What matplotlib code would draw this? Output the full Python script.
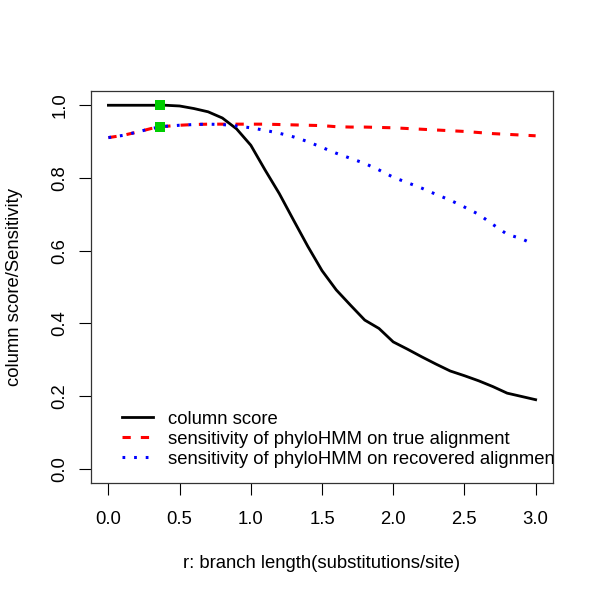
import numpy as np
import matplotlib
matplotlib.use("Agg")
import matplotlib.pyplot as plt

# branch length r (substitutions/site)
r = [0.0, 0.1, 0.2, 0.3, 0.4, 0.5, 0.6, 0.7, 0.8, 0.9, 1.0,
     1.1, 1.2, 1.3, 1.4, 1.5, 1.6, 1.7, 1.8, 1.9, 2.0,
     2.1, 2.2, 2.3, 2.4, 2.5, 2.6, 2.7, 2.8, 2.9, 3.0]

column_score = [1.0, 1.0, 1.0, 1.0, 1.0, 0.998, 0.991, 0.982, 0.965, 0.935, 0.89,
                0.822, 0.757, 0.684, 0.612, 0.545, 0.492, 0.45, 0.409, 0.386, 0.349,
                0.329, 0.308, 0.288, 0.269, 0.256, 0.242, 0.226, 0.208, 0.199, 0.19]

sens_true = [0.911, 0.917, 0.926, 0.936, 0.942, 0.945, 0.947, 0.948, 0.948, 0.948, 0.948,
             0.948, 0.947, 0.946, 0.945, 0.944, 0.941, 0.940, 0.940, 0.939, 0.938,
             0.936, 0.934, 0.932, 0.930, 0.928, 0.925, 0.922, 0.920, 0.918, 0.916]

r_rec = [0.0, 0.1, 0.2, 0.3, 0.4, 0.5, 0.6, 0.7, 0.8, 0.9, 1.0,
         1.1, 1.2, 1.3, 1.4, 1.5, 1.6, 1.7, 1.8, 1.9, 2.0,
         2.1, 2.2, 2.3, 2.4, 2.5, 2.6, 2.7, 2.8, 2.9, 2.95]
sens_recovered = [0.911, 0.917, 0.926, 0.936, 0.942, 0.945, 0.947, 0.948, 0.947, 0.943, 0.938,
                  0.931, 0.923, 0.913, 0.900, 0.884, 0.868, 0.854, 0.840, 0.822, 0.802,
                  0.787, 0.772, 0.755, 0.739, 0.720, 0.700, 0.672, 0.645, 0.633, 0.624]

# highlighted points
mark_x = [0.36, 0.36]
mark_y = [1.0, 0.94]

labels = ["column score",
          "sensitivity of phyloHMM on true alignment",
          "sensitivity of phyloHMM on recovered alignment"]

plt.rcParams['font.family'] = ['Liberation Sans', 'DejaVu Sans']
plt.rcParams['font.size'] = 13.3

fig = plt.figure(figsize=(6.0, 5.98), dpi=100)
ax = fig.add_axes([0.1522, 0.1918, 0.769, 0.6565])

ax.plot(r, column_score, color='black', lw=2.0, label=labels[0])
ax.plot(r, sens_true, color='red', lw=2.2, dashes=(2.7, 3.3), label=labels[1])
ax.plot(r_rec, sens_recovered, color='blue', lw=2.2, dashes=(0.9, 2.9), label=labels[2])
ax.scatter(mark_x, mark_y, marker='s', s=50, color='#00cd00', zorder=5, linewidths=0)

ax.set_xlim(-0.12, 3.12)
ax.set_ylim(-0.04, 1.04)
ax.set_xticks([0.0, 0.5, 1.0, 1.5, 2.0, 2.5, 3.0])
ax.set_xticklabels(["0.0", "0.5", "1.0", "1.5", "2.0", "2.5", "3.0"])
ax.set_yticks([0.0, 0.2, 0.4, 0.6, 0.8, 1.0])
ax.set_yticklabels(["0.0", "0.2", "0.4", "0.6", "0.8", "1.0"], rotation=90, va='center')
ax.tick_params(direction='out', length=8.6, width=0.8)
ax.tick_params(axis='x', pad=11.5)
ax.tick_params(axis='y', pad=8)

for s in ax.spines.values():
    s.set_linewidth(0.9)
    s.set_color('#333333')

ax.set_xlabel("r: branch length(substitutions/site)")
ax.xaxis.set_label_coords(0.498, -0.182)
ax.set_ylabel("column score/Sensitivity", va='center')
ax.yaxis.set_label_coords(-0.166, 0.5)

leg = ax.legend(loc='lower left', bbox_to_anchor=(0.0665, 0.040), frameon=False,
                handlelength=1.68, handletextpad=0.81, labelspacing=0.16,
                borderaxespad=0, borderpad=0)
for t in leg.get_texts():
    t.set_clip_on(True)
    t.set_clip_box(ax.bbox)

fig.savefig("out.png", dpi=100)
